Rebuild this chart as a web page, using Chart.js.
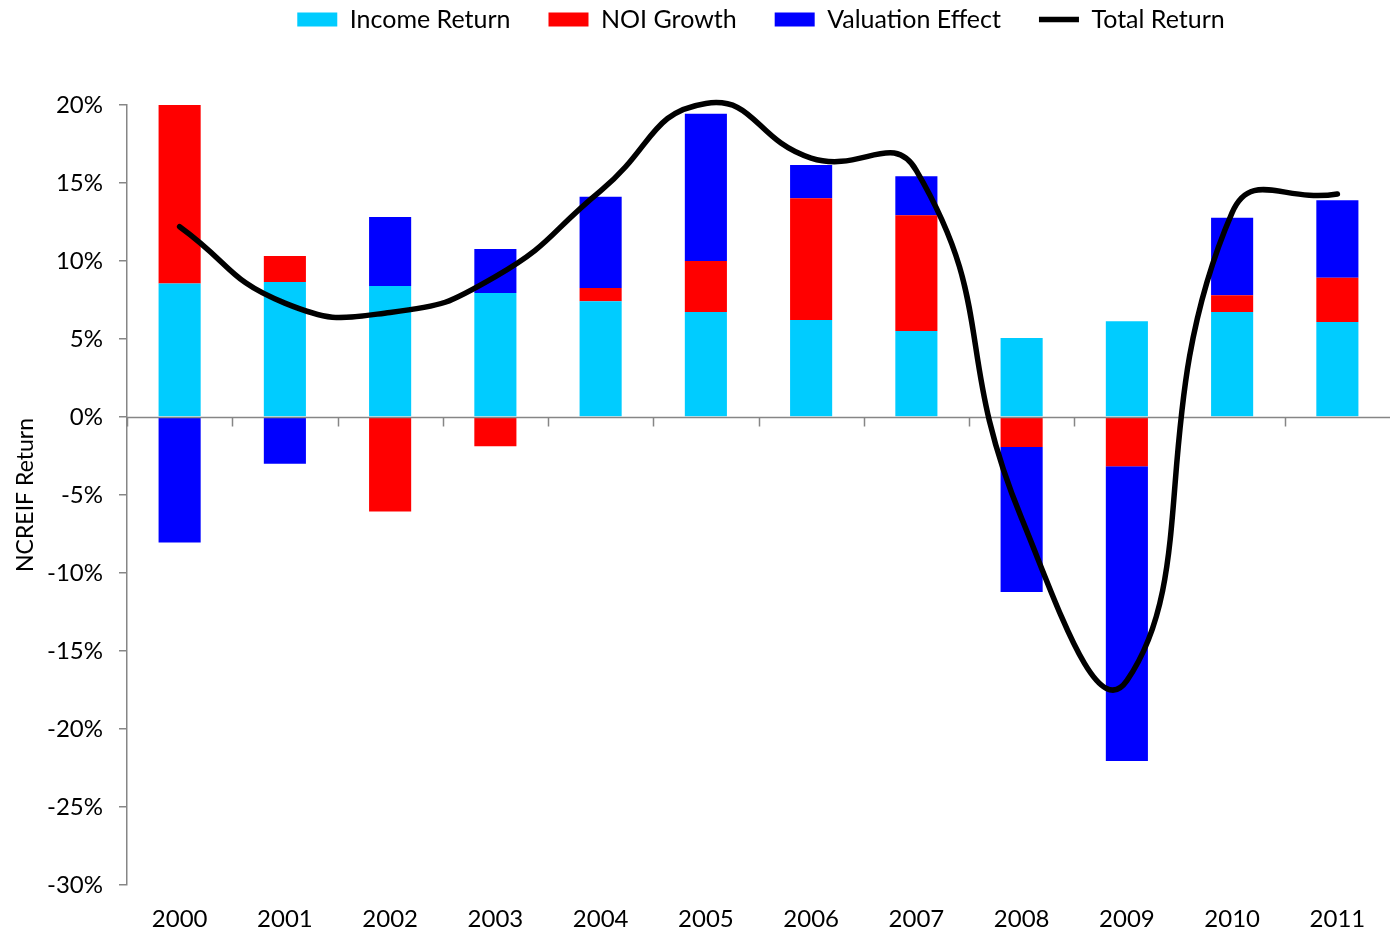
<!DOCTYPE html>
<html>
<head>
<meta charset="utf-8">
<script src="https://cdn.jsdelivr.net/npm/chart.js@4"></script>
<style>
  html, body { margin: 0; padding: 0; background: #fff; }
  #wrap { width: 1391px; height: 936px; }
</style>
</head>
<body>
<div id="wrap"><canvas id="myChart" width="1391" height="936"></canvas></div>
<script>
const years = ["2000", "2001", "2002", "2003", "2004", "2005", "2006", "2007", "2008", "2009", "2010", "2011"];
const incomeReturn = [8.55, 8.65, 8.4, 7.95, 7.42, 6.73, 6.22, 5.51, 5.06, 6.13, 6.73, 6.09];
const noiGrowth = [11.45, 1.67, -6.05, -1.88, 0.85, 3.27, 7.8, 7.42, -1.92, -3.16, 1.07, 2.84];
const valuationEffect = [-8.05, -2.99, 4.42, 2.82, 5.85, 9.44, 2.13, 2.5, -9.3, -18.89, 4.98, 4.96];
const totalReturn = [12.2, 7.3, 6.7, 9.0, 14.5, 20.1, 16.6, 15.8, -6.5, -16.9, 13.1, 14.3];
const yTicks = [-30, -25, -20, -15, -10, -5, 0, 5, 10, 15, 20];

const FONT = "Lato";
const AXIS = "#868686";

// legend: fixed height, then nudged up and to the right like the original
const legendPlace = {
  id: "legendPlace",
  beforeInit(chart) {
    const fit = chart.legend.fit;
    chart.legend.fit = function () {
      fit.bind(chart.legend)();
      this.height = 105;
    };
  },
  afterUpdate(chart) {
    const lg = chart.legend;
    lg.top -= 31;
    lg.bottom -= 31;
    lg.left += 60;
    lg.right += 60;
  },
};

// horizontal axis at 0 with tick marks between categories
const zeroAxis = {
  id: "zeroAxis",
  beforeDatasetDraw(chart, args) {
    if (args.index !== 3) return;
    const { ctx, chartArea, scales } = chart;
    const y0 = Math.round(scales.y.getPixelForValue(0)) + 0.5;
    const step = scales.x.getPixelForValue(1) - scales.x.getPixelForValue(0);
    ctx.save();
    ctx.strokeStyle = AXIS;
    ctx.lineWidth = 1.5;
    ctx.beginPath();
    ctx.moveTo(chartArea.left, y0);
    ctx.lineTo(chartArea.right, y0);
    for (let i = 0; i < years.length; i++) {
      const edge = Math.round(scales.x.getPixelForValue(i) - step / 2) + 0.5;
      ctx.moveTo(edge, y0);
      ctx.lineTo(edge, y0 + 9);
    }
    ctx.stroke();
    ctx.restore();
  },
};

const ctx = document.getElementById("myChart");

new Chart(ctx, {
  type: "bar",
  data: {
    labels: years,
    datasets: [
      {
        label: "Income Return",
        data: incomeReturn,
        backgroundColor: "#00ccff",
        pointStyle: "rect",
        order: 1,
      },
      {
        label: "NOI Growth",
        data: noiGrowth,
        backgroundColor: "#ff0000",
        pointStyle: "rect",
        order: 1,
      },
      {
        label: "Valuation Effect",
        data: valuationEffect,
        backgroundColor: "#0000ff",
        pointStyle: "rect",
        order: 1,
      },
      {
        type: "line",
        label: "Total Return",
        data: totalReturn,
        stack: "total",
        borderColor: "#000",
        backgroundColor: "#000",
        borderWidth: 5.5,
        borderCapStyle: "round",
        tension: 0.5,
        pointRadius: 0,
        pointStyle: "line",
        fill: false,
        clip: false,
        order: 0,
      },
    ],
  },
  options: {
    responsive: false,
    animation: false,
    layout: { padding: { left: 12, right: 1, top: 0, bottom: 0 } },
    datasets: {
      bar: { barPercentage: 0.4, categoryPercentage: 1 },
    },
    plugins: {
      legend: {
        position: "top",
        labels: {
          sort: (a, b) => a.datasetIndex - b.datasetIndex,
          usePointStyle: true,
          pointStyleWidth: 40,
          boxHeight: 14,
          padding: 38,
          color: "#000",
          font: { family: FONT, size: 25 },
        },
      },
      tooltip: { enabled: false },
    },
    scales: {
      x: {
        stacked: true,
        grid: { display: false, drawTicks: false },
        border: { display: false },
        afterFit(scale) {
          scale.height = 51;
        },
        ticks: {
          color: "#000",
          padding: 20,
          font: { family: FONT, size: 24 },
        },
      },
      y: {
        stacked: true,
        min: -30,
        max: 20,
        afterBuildTicks(scale) {
          scale.ticks = yTicks.map((v) => ({ value: v }));
        },
        afterFit(scale) {
          scale.width = 115;
        },
        grid: {
          drawOnChartArea: false,
          color: AXIS,
          tickLength: 8,
          lineWidth: 1.5,
        },
        border: { color: AXIS, width: 1.5 },
        ticks: {
          color: "#000",
          padding: 16,
          font: { family: FONT, size: 24 },
          callback: (v) => v + "%",
        },
        title: {
          display: true,
          text: "NCREIF Return",
          color: "#000",
          padding: { top: 0, bottom: 0 },
          font: { family: FONT, size: 23 },
        },
      },
    },
  },
  plugins: [legendPlace, zeroAxis],
});
</script>
</body>
</html>
